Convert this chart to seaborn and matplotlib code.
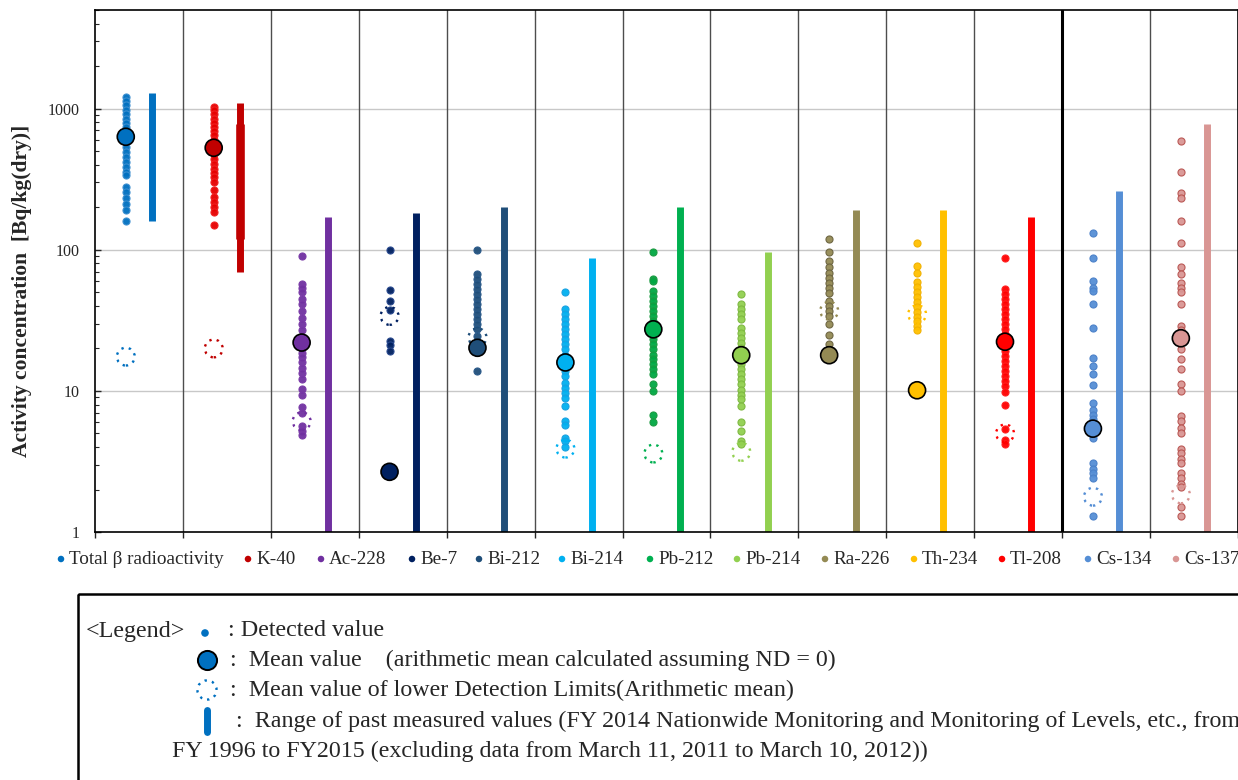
import numpy as np
import pandas as pd
import matplotlib
matplotlib.use("Agg")
import matplotlib.pyplot as plt
import seaborn as sns
from matplotlib.patches import Rectangle

# ---------------- data ----------------
nuclides = ["Total β radioactivity", "K-40", "Ac-228", "Be-7", "Bi-212", "Bi-214",
            "Pb-212", "Pb-214", "Ra-226", "Th-234", "Tl-208", "Cs-134", "Cs-137"]

total_beta_vals = [1210, 1134, 1056, 984, 911, 849, 791, 741, 683, 629, 579, 534, 492,
                   453, 418, 385, 355, 336, 280, 255, 233, 211, 192, 161]
k40_vals = [1028, 973, 911, 849, 791, 741, 690, 646, 595, 548, 506, 474, 441, 407,
            375, 349, 327, 301, 263, 235, 217, 200, 184, 150]
ac228_vals = [90, 57.5, 54, 50, 45, 41, 37, 33, 30, 27, 24, 20, 18.7, 17.3, 16, 14.6,
              13.4, 12.1, 10.3, 9.3, 7.7, 7.0, 5.6, 5.2, 4.9]
be7_vals = [100, 52, 43, 37.5, 22.6, 21.3, 19.2]
bi212_vals = [100, 67, 61.9, 57, 52.5, 48.4, 44.6, 41, 37.9, 34.9, 32.2, 29.6, 27.3,
              24.5, 21.9, 13.9]
bi214_vals = [50.3, 37.9, 34.9, 32.2, 29.6, 27.3, 25.2, 23.2, 21.4, 19.7, 18.1, 16.7,
              15.0, 13.8, 12.7, 11.4, 10.5, 9.7, 8.9, 7.8, 6.1, 5.7, 4.6, 4.4, 4.0]
pb212_vals = [95.7, 61.9, 60, 51, 47, 43.4, 40, 36.8, 34, 31.3, 28.8, 25.2, 23.2, 21.4,
              19.7, 18.1, 16.7, 15.4, 14.2, 13.1, 11.1, 10, 6.8, 6.0]
pb214_vals = [48.4, 41, 37.9, 34.9, 32.2, 28.1, 25.9, 23.8, 21.9, 20.2, 18.6, 16.7,
              15.4, 14.2, 13.1, 12.1, 11.1, 10.2, 9.4, 8.7, 7.8, 6.0, 5.2, 4.4, 4.2]
ra226_vals = [120, 95.7, 83.5, 75, 69, 63.5, 58.6, 54, 49.7, 43.4, 40, 36.8, 34, 29.6,
              24.7, 21.4]
th234_vals = [110.9, 77.0, 69, 59, 54.9, 50.3, 46.3, 42.7, 39.3, 36.2, 33.6, 31.3,
              28.8, 26.9]
tl208_vals = [86.8, 52.5, 48.4, 44.6, 41, 37.9, 34.9, 32.2, 29.6, 27.3, 25.2, 23.2,
              20.8, 19.2, 17.6, 16.2, 15, 13.8, 12.7, 11.7, 10.8, 9.8, 8.0, 5.4, 4.5, 4.2]
cs134_vals = [131, 87.2, 60.5, 53.4, 51.0, 41.1, 28, 17.2, 15.0, 13.1, 11.0, 8.2, 7.3,
              6.8, 6.3, 4.6, 3.1, 2.8, 2.6, 2.4, 1.3]
cs137_vals = [586, 355, 253, 232, 161, 111, 75, 67, 58, 54, 50, 41.2, 28.7, 27.2, 25.8,
              19.7, 16.7, 14.2, 11.2, 10.0, 6.6, 6.1, 5.5, 5.0, 3.9, 3.6, 3.3, 3.1, 2.6,
              2.4, 2.2, 2.1, 1.5, 1.3]

detected = [total_beta_vals, k40_vals, ac228_vals, be7_vals, bi212_vals, bi214_vals,
            pb212_vals, pb214_vals, ra226_vals, th234_vals, tl208_vals, cs134_vals,
            cs137_vals]

mean_vals = [632, 528, 22, 2.67, 20.2, 15.9, 27.3, 17.9, 17.9, 10.1, 22.3, 5.4, 23.6]
ldl_vals = [17.5, 20, 6.1, 34, 24, 3.9, 3.6, 3.7, 37, 35, 5.0, 1.78, 1.85]
range_hi = [1300, 1100, 171, 182, 201, 87, 200, 96, 191, 191, 171, 261, 782]
range_lo = [160, 70, 0.5, 0.5, 0.5, 0.5, 0.5, 0.5, 0.5, 0.5, 0.5, 0.5, 0.5]
# second (overlapping) past-range segment for K-40
k40_inner_range = [120, 780]

dot_colors = ["#0070C0", "#E60000", "#7030A0", "#002060", "#1F4E79", "#00B0F0",
              "#00A843", "#92D050", "#948A54", "#FFC000", "#FF0000", "#558ED5", "#D99694"]
dot_edges = ["#3d8fd0", "#F02020", "#7a3aa8", "#2a4a90", "#2a5a8a", "#1aa0e0",
             "#1a9a40", "#7db840", "#6b6340", "#F0B000", "#FF2020", "#4a80c8", "#B85450"]
mean_colors = ["#0070C0", "#C00000", "#7030A0", "#002060", "#1F4E79", "#00B0F0",
               "#00B050", "#92D050", "#948A54", "#FFC000", "#FF0000", "#558ED5", "#D99694"]
bar_colors = ["#0070C0", "#C00000", "#7030A0", "#002060", "#1F4E79", "#00B0F0",
              "#00B050", "#92D050", "#948A54", "#FFC000", "#FF0000", "#558ED5", "#D99694"]

y_ticks = [1, 10, 100, 1000]
y_label = "Activity concentration  [Bq/kg(dry)]"

legend_lines = [
    ": Detected value",
    ":  Mean value    (arithmetic mean calculated assuming ND = 0)",
    ":  Mean value of lower Detection Limits(Arithmetic mean)",
    ":  Range of past measured values (FY 2014 Nationwide Monitoring and Monitoring of Levels, etc., from",
    "FY 1996 to FY2015 (excluding data from March 11, 2011 to March 10, 2012))",
]

# ---------------- figure ----------------
sns.set_theme(style="white")
plt.rcParams["font.family"] = ["Liberation Serif", "DejaVu Serif"]

W, H = 1238, 780
fig = plt.figure(figsize=(W / 100, H / 100), dpi=100)
ax = fig.add_axes([95 / W, 1 - 532 / H, (W - 95) / W, (532 - 10) / H])

n = len(nuclides)
idx = np.arange(n)
dot_off, bar_off = -0.15, 0.15

ax.set_yscale("log")
ax.set_ylim(1, 5000)
ax.set_xlim(-0.5, n - 0.5)

# grid + dividers
for t in [10, 100, 1000]:
    ax.axhline(t, color="#c8c8c8", lw=1.0, zorder=0)
for k in range(1, n):
    if k == 11:
        ax.axvline(k - 0.5, color="black", lw=2.2, zorder=0.5)
    else:
        ax.axvline(k - 0.5, color="#4d4d4d", lw=1.0, zorder=0.5)

# range bars
ax.vlines(idx + bar_off, range_lo, range_hi, colors=bar_colors, lw=5.0, zorder=2)
ax.vlines([1 + bar_off], [k40_inner_range[0]], [k40_inner_range[1]],
          colors=[bar_colors[1]], lw=6.2, zorder=2)

# detected dots
rows = []
for i, vals in enumerate(detected):
    for v in vals:
        rows.append({"x": i + dot_off, "value": v, "nuclide": nuclides[i]})
df = pd.DataFrame(rows)
for i, nm in enumerate(nuclides):
    sub = df[df["nuclide"] == nm]
    sns.scatterplot(data=sub, x="x", y="value", ax=ax, s=26, color=dot_colors[i],
                    edgecolor=dot_edges[i], linewidth=0.8, alpha=0.95, zorder=3,
                    legend=False)

# LDL dotted circles
ax.scatter(idx + dot_off, ldl_vals, s=165, facecolors="none", edgecolors=mean_colors,
           linewidths=1.7, linestyles=(0, (1, 2.2)), zorder=4)

# mean circles
mdf = pd.DataFrame({"x": idx + dot_off, "value": mean_vals, "nuclide": nuclides})
sns.scatterplot(data=mdf, x="x", y="value", hue="nuclide", palette=mean_colors,
                s=150, edgecolor="black", linewidth=1.2, ax=ax, zorder=5, legend=False)

# axes styling
ax.set_yticks(y_ticks)
ax.set_yticklabels([str(t) for t in y_ticks], fontsize=11.5)
ax.yaxis.set_minor_locator(matplotlib.ticker.LogLocator(base=10, subs=np.arange(2, 10)))
ax.yaxis.set_minor_formatter(matplotlib.ticker.NullFormatter())
ax.tick_params(axis="y", which="major", direction="in", length=4, width=1,
               left=True, pad=11)
ax.tick_params(axis="y", which="minor", direction="in", length=3, width=0.8, left=True)
ax.set_xticks(np.arange(n + 1) - 0.5)
ax.set_xticklabels([])
ax.tick_params(axis="x", which="major", direction="out", length=4, width=1, bottom=True)
ax.set_xlabel("")
ax.set_ylabel(y_label, fontsize=15.5, fontweight="bold")
ax.yaxis.set_label_coords(-0.055, 0.462)
for s in ax.spines.values():
    s.set_color("black")
    s.set_linewidth(1.2)
ax.grid(False)

# ---------------- legends (pixel-coordinate overlay) ----------------
ov = fig.add_axes([0, 0, 1, 1], zorder=10)
ov.set_xlim(0, W)
ov.set_ylim(H, 0)
ov.axis("off")
ov.patch.set_alpha(0)

leg_x = [61, 248, 321, 412, 479, 562, 650, 737, 825, 914, 1002, 1088, 1176]
ov.scatter(leg_x, [559] * n, s=22, c=mean_colors, edgecolors="none")
for i, nm in enumerate(nuclides):
    ov.text(leg_x[i] + 8, 559, nm, fontsize=13.8, va="center", ha="left")

fs = 17.3
ov.add_patch(Rectangle((78, 594), 1300, 250, fill=False, edgecolor="black", lw=1.8))
ov.text(86, 631, "<Legend>", fontsize=fs, va="center", ha="left")
ov.scatter([205], [633], s=30, color="#0070C0", edgecolors="none")
ov.text(228, 631, legend_lines[0], fontsize=fs, va="center", ha="left")
ov.scatter([207], [660], s=190, color="#0070C0", edgecolors="black", linewidths=1.4)
ov.text(230, 660, legend_lines[1], fontsize=fs, va="center", ha="left")
ov.scatter([207], [690], s=190, facecolors="none", edgecolors="#0070C0",
           linewidths=1.7, linestyles=(0, (1, 2.2)))
ov.text(230, 690, legend_lines[2], fontsize=fs, va="center", ha="left")
ov.plot([207, 207], [710, 732], color="#0070C0", lw=5, solid_capstyle="round")
ov.text(236, 721, legend_lines[3], fontsize=fs, va="center", ha="left")
ov.text(172, 751, legend_lines[4], fontsize=fs, va="center", ha="left")

fig.savefig("out.png", dpi=100)
